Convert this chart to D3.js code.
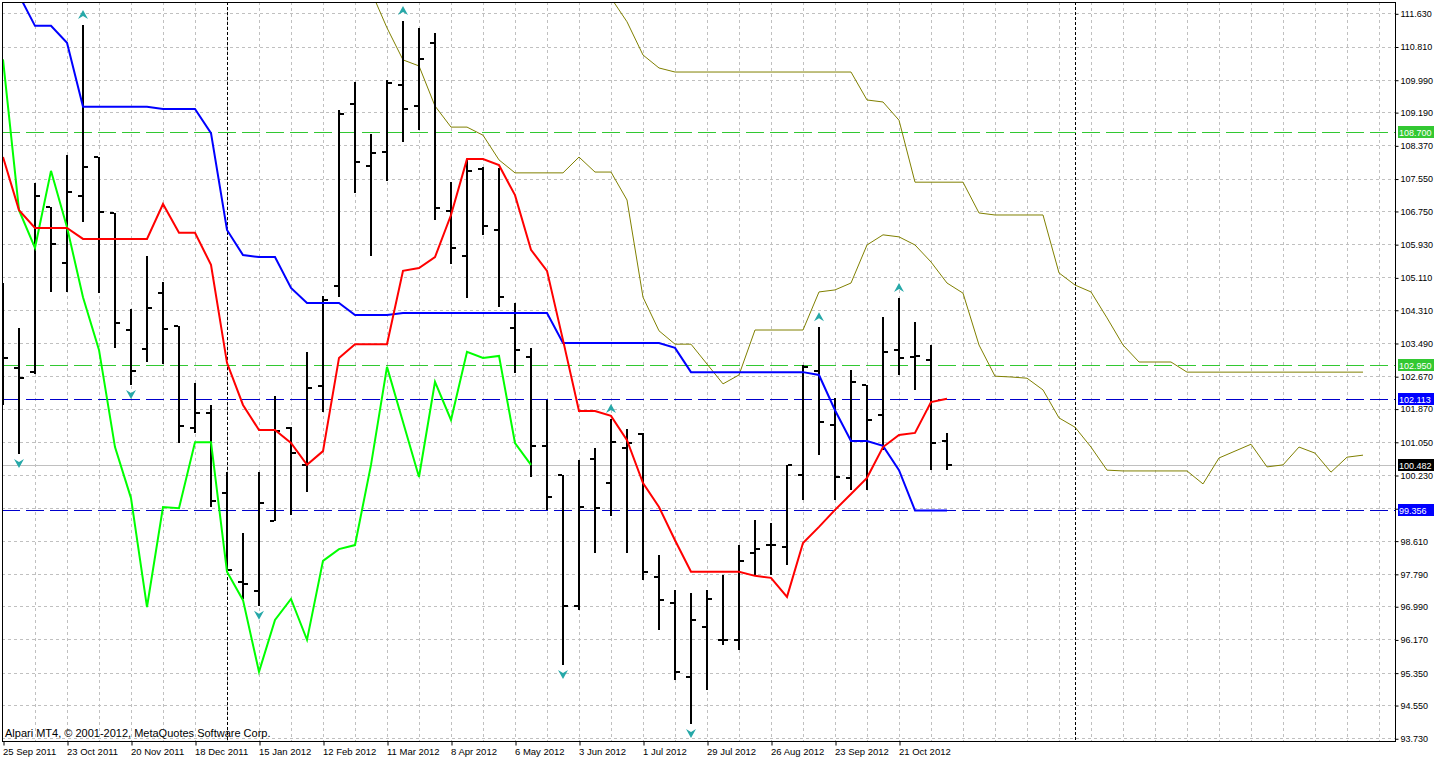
<!DOCTYPE html>
<html><head><meta charset="utf-8">
<script src="https://cdn.jsdelivr.net/npm/d3@7"></script>
<style>
body{margin:0;background:#fff}
svg{display:block}
text{font-family:'Liberation Sans',Arial,sans-serif}
</style>
</head><body>
<svg id="chart" width="1434" height="759"></svg>
<script>
// ---------------- DATA ----------------
const dateLabels = ["25 Sep 2011","23 Oct 2011","20 Nov 2011","18 Dec 2011","15 Jan 2012","12 Feb 2012","11 Mar 2012","8 Apr 2012","6 May 2012","3 Jun 2012","1 Jul 2012","29 Jul 2012","26 Aug 2012","23 Sep 2012","21 Oct 2012"];
const dateLabelBars = [0,4,8,12,16,20,24,28,32,36,40,44,48,52,56];

const opens  = [103.32,102.87,102.77,106.85,105.46,107.12,108.08,106.70,103.81,103.34,104.72,103.91,101.39,101.76,99.79,97.59,97.37,99.09,101.39,100.48,102.43,104.90,109.39,107.86,108.21,109.86,109.34,110.90,106.75,105.64,107.79,106.28,103.86,103.14,100.95,100.23,97.00,100.63,100.03,100.90,101.24,97.71,97.07,95.24,96.48,96.16,96.16,98.30,98.50,98.45,100.23,102.80,101.46,100.16,102.45,101.71,103.32,103.14,103.07,101.06];
const highs  = [104.97,103.86,107.44,106.85,108.13,111.34,108.08,106.70,104.33,105.64,104.99,103.91,102.50,101.96,100.30,98.80,100.30,102.18,101.41,103.27,104.65,109.24,109.93,108.65,109.98,111.44,111.27,111.14,107.46,108.03,107.83,107.81,104.48,103.37,102.08,100.23,100.60,100.90,101.61,101.37,101.27,98.25,97.39,97.32,97.39,97.76,98.50,99.12,99.04,100.48,102.95,103.88,102.13,102.82,102.45,104.13,104.60,104.01,103.44,101.27];
const lows   = [101.96,100.75,102.72,104.75,104.75,106.48,104.72,103.37,102.45,103.02,102.97,101.02,101.27,99.44,97.88,97.17,97.00,99.09,99.24,99.81,101.79,104.62,107.19,105.64,107.49,108.45,108.75,106.53,105.44,104.60,106.16,104.38,102.75,100.18,99.37,95.54,96.90,98.30,99.22,98.30,97.64,96.40,95.17,94.08,94.92,96.03,95.91,97.76,97.76,98.01,99.61,100.72,99.61,99.86,99.86,100.85,102.70,102.33,100.35,100.35];
const closes = [103.12,102.62,107.12,105.93,107.22,107.83,106.72,103.98,102.80,104.35,103.83,101.44,101.76,99.59,97.88,97.54,99.54,101.32,100.77,102.38,104.55,109.14,107.96,108.18,109.91,109.27,110.50,106.82,105.84,107.74,106.38,104.62,103.32,100.95,99.69,97.00,99.44,99.41,101.04,101.02,97.84,97.14,95.37,96.65,97.17,96.16,98.11,98.40,98.50,100.48,102.90,101.54,100.18,102.53,101.59,103.27,103.12,103.17,101.02,100.482];

// Ichimoku lines (index = bar number)
const tenkan = [108.08,106.77,106.33,106.33,106.33,106.06,106.06,106.06,106.06,106.06,106.92,106.21,106.21,105.42,103.00,101.96,101.34,101.34,101.02,100.48,100.82,103.12,103.46,103.46,103.46,105.27,105.34,105.61,106.65,108.03,108.03,107.88,107.14,105.79,105.27,103.56,101.81,101.81,101.69,101.09,100.03,99.44,98.62,97.84,97.84,97.84,97.84,97.74,97.69,97.22,98.55,98.95,99.37,99.76,100.16,100.92,101.22,101.27,102.03,102.113];
const kijun  = [112.95,112.08,111.32,111.32,110.90,109.32,109.32,109.32,109.32,109.32,109.27,109.27,109.27,108.67,106.28,105.66,105.61,105.61,104.85,104.48,104.48,104.48,104.18,104.18,104.18,104.23,104.23,104.23,104.23,104.23,104.23,104.23,104.23,104.23,104.23,103.49,103.49,103.49,103.49,103.49,103.49,103.49,103.37,102.77,102.77,102.77,102.77,102.77,102.77,102.77,102.77,102.70,101.83,101.07,101.07,100.95,100.35,99.356,99.356,99.356];
const chikou = [110.49,106.77,105.84,107.74,106.35,104.62,103.32,100.92,99.66,96.97,99.44,99.41,101.04,101.04,97.84,97.14,95.37,96.65,97.17,96.16,98.11,98.40,98.50,100.48,102.90,101.54,100.18,102.53,101.59,103.27,103.12,103.17,101.02,100.482];
const spanAStart = 23;
const spanA = [112.18,111.27,110.48,110.33,109.34,108.82,108.82,108.62,108.01,107.69,107.69,107.69,107.69,108.08,107.71,107.71,107.02,104.62,103.79,103.46,103.46,102.97,102.48,102.70,103.81,103.81,103.81,103.81,104.75,104.80,104.97,105.91,106.16,106.11,105.91,105.49,104.97,104.72,103.44,102.67,102.65,102.62,102.33,101.64,101.41,100.92,100.35,100.33,100.33,100.33,100.33,100.33,100.01,100.65,100.82,100.99,100.43,100.48,100.92,100.77,100.30,100.67,100.72];
const spanBStart = 38;
const spanB = [112.01,111.42,110.60,110.28,110.18,110.18,110.18,110.18,110.18,110.18,110.18,110.18,110.18,110.18,110.18,110.18,109.49,109.44,108.99,107.46,107.46,107.46,107.46,106.70,106.65,106.65,106.65,106.65,105.22,104.92,104.75,104.11,103.44,103.02,103.02,103.02,102.77,102.77,102.77,102.77,102.77,102.77,102.77,102.77,102.77,102.77,102.77,102.77];

const upFractals = [5,25,38,51,56];
const downFractals = [1,8,16,35,43];

const priceTickLabels = ["111.630","110.810","109.990","109.190","108.370","107.550","106.750","105.930","105.110","104.310","103.490","102.670","101.870","101.050","100.230","99.410","98.610","97.790","96.990","96.170","95.350","94.550","93.730"];

const levelValues = [108.700, 102.950, 102.113, 99.356];
const levelLabels = ["108.700","102.950","102.113","99.356"];
const levelKinds  = ["green","green","blue","blue"];
const bidPrice = 100.482;
const bidLabel = "100.482";
const separatorBars = [14, 67];
const copyright = "Alpari MT4, \u00A9 2001-2012, MetaQuotes Software Corp.";

// ---------------- LAYOUT ----------------
const svg = d3.select('#chart');
const L = 2, T = 2, R = 1395, B = 741;
const x = d3.scaleLinear().domain([0, 87]).range([3, 3 + 87 * 16]);
const y = d3.scaleLinear().domain([93.73, 111.63]).range([738.25, 13.3]);

svg.append('rect').attr('width',1434).attr('height',759).attr('fill','#fff');

svg.append('defs').append('clipPath').attr('id','clip')
  .append('rect').attr('x',L).attr('y',T).attr('width',R-L).attr('height',B-T);

const plot = svg.append('g').attr('clip-path','url(#clip)');

// grid
const gridColor = '#c0c0c0';
plot.append('g').selectAll('line').data(priceTickLabels.map(Number)).join('line')
  .attr('x1',L).attr('x2',R)
  .attr('y1',d=>Math.round(y(d))+0.5).attr('y2',d=>Math.round(y(d))+0.5)
  .attr('stroke',gridColor).attr('stroke-dasharray','3,3');
plot.append('g').selectAll('line').data(d3.range(2, 87, 2)).join('line')
  .attr('x1',d=>x(d)+0.5).attr('x2',d=>x(d)+0.5)
  .attr('y1',T).attr('y2',B)
  .attr('stroke',gridColor).attr('stroke-dasharray','3,3');

// period separators
plot.append('g').selectAll('line').data(separatorBars).join('line')
  .attr('x1',d=>x(d)+0.5).attr('x2',d=>x(d)+0.5)
  .attr('y1',T).attr('y2',B)
  .attr('stroke','#000').attr('stroke-dasharray','3,2');

// bid line
plot.append('line').attr('x1',L).attr('x2',R)
  .attr('y1',Math.round(y(bidPrice))+0.5).attr('y2',Math.round(y(bidPrice))+0.5)
  .attr('stroke','#c0c0c0');

// level lines
const levelColor = {green:'#32c832', blue:'#0000cd'};
plot.append('g').selectAll('line').data(levelValues).join('line')
  .attr('x1',L).attr('x2',R)
  .attr('y1',d=>Math.round(y(d))+0.5).attr('y2',d=>Math.round(y(d))+0.5)
  .attr('stroke',(d,i)=>levelColor[levelKinds[i]])
  .attr('stroke-dasharray','18,6');

// olive spans
const line = d3.line().x(d=>x(d.i)).y(d=>y(d.v));
plot.append('path').datum(spanA.map((v,k)=>({i:k+spanAStart,v})))
  .attr('d',line).attr('fill','none').attr('stroke','#808000').attr('stroke-width',1);
plot.append('path').datum(spanB.map((v,k)=>({i:k+spanBStart,v})))
  .attr('d',line).attr('fill','none').attr('stroke','#808000').attr('stroke-width',1);

// bars
const bars = plot.append('g').attr('fill','#000').attr('shape-rendering','crispEdges');
opens.forEach((o,i)=>{
  const cx = Math.round(x(i));
  const yh = Math.round(y(highs[i])), yl = Math.round(y(lows[i]));
  bars.append('rect').attr('x',cx-1).attr('y',yh).attr('width',2).attr('height',Math.max(1,yl-yh));
  bars.append('rect').attr('x',cx-5).attr('y',Math.round(y(o))-1).attr('width',4).attr('height',2);
  bars.append('rect').attr('x',cx+1).attr('y',Math.round(y(closes[i]))-1).attr('width',4).attr('height',2);
});

// Ichimoku main lines
plot.append('path').datum(chikou.map((v,i)=>({i,v})))
  .attr('d',line).attr('fill','none').attr('stroke','#00ff00').attr('stroke-width',2);
plot.append('path').datum(kijun.map((v,i)=>({i,v})))
  .attr('d',line).attr('fill','none').attr('stroke','#0000ff').attr('stroke-width',2);
plot.append('path').datum(tenkan.map((v,i)=>({i,v})))
  .attr('d',line).attr('fill','none').attr('stroke','#ff0000').attr('stroke-width',2);

// fractals
const arrowColor = '#26a8a8';
const upPath = 'M0,-5 L5,4 L0,1 L-5,4 Z';
const downPath = 'M0,5 L5,-4 L0,-1 L-5,-4 Z';
plot.append('g').selectAll('path').data(upFractals).join('path')
  .attr('d',upPath).attr('fill',arrowColor)
  .attr('transform',d=>`translate(${x(d)},${y(highs[d])-10})`);
plot.append('g').selectAll('path').data(downFractals).join('path')
  .attr('d',downPath).attr('fill',arrowColor)
  .attr('transform',d=>`translate(${x(d)},${y(lows[d])+9})`);

// copyright
svg.append('text').attr('x',5).attr('y',737).attr('font-size',11).attr('fill','#000').text(copyright);

// frame
svg.append('rect').attr('x',L+0.5).attr('y',T+0.5).attr('width',R-L).attr('height',B-T)
  .attr('fill','none').attr('stroke','#000');

// price axis
const yAxis = d3.axisRight(y).tickValues(priceTickLabels.map(Number))
  .tickFormat((d,i)=>priceTickLabels[i]).tickSize(3).tickPadding(2);
const ya = svg.append('g').attr('transform',`translate(${R+0.5},0.5)`).call(yAxis);
ya.select('.domain').remove();
ya.selectAll('text').attr('font-size',9).attr('font-family','Liberation Sans, Arial').attr('fill','#000');
ya.selectAll('line').attr('stroke','#000');

// date axis
const xAxis = d3.axisBottom(x).tickValues(dateLabelBars)
  .tickFormat((d,i)=>dateLabels[i]).tickSize(4).tickPadding(3);
const xa = svg.append('g').attr('transform',`translate(0.5,${B+0.5})`).call(xAxis);
xa.select('.domain').remove();
xa.selectAll('text').attr('font-size',9.5).attr('font-family','Liberation Sans, Arial')
  .attr('text-anchor','start').attr('dx',-1).attr('fill','#000');
xa.selectAll('line').attr('stroke','#000');

// level labels (boxes)
const boxes = svg.append('g');
const boxData = levelValues.map((v,i)=>({v,label:levelLabels[i],bg:levelKinds[i]==='green'?'#32c832':'#0000ff'}))
  .concat([{v:bidPrice,label:bidLabel,bg:'#000'}]);
boxData.forEach(b=>{
  const yy = Math.round(y(b.v));
  boxes.append('rect').attr('x',R+3).attr('y',yy-6).attr('width',1434-R-3).attr('height',12).attr('fill',b.bg);
  boxes.append('text').attr('x',R+4).attr('y',yy+3.5).attr('font-size',9).attr('fill','#fff').text(b.label);
});
</script>
</body></html>
